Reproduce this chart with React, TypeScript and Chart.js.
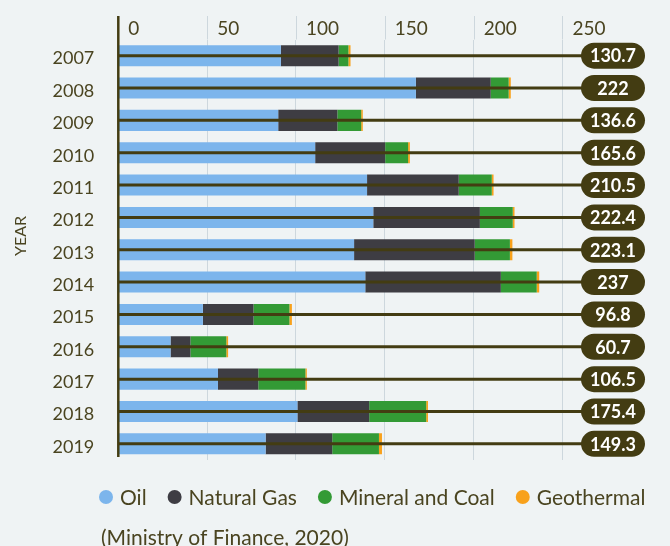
import React, { useEffect, useRef } from "react";
import { Chart, registerables } from "chart.js";

Chart.register(...registerables);

const years = ["2007", "2008", "2009", "2010", "2011", "2012", "2013", "2014", "2015", "2016", "2017", "2018", "2019"];
const oil = [91.5, 167.5, 90.0, 110.8, 140.0, 143.5, 132.7, 139.0, 47.6, 29.4, 56.1, 100.8, 82.9];
const naturalGas = [32.5, 42.1, 33.3, 39.4, 51.6, 60.0, 67.9, 76.3, 28.5, 11.2, 22.7, 40.4, 37.5];
const mineralCoal = [5.5, 10.1, 13.4, 12.9, 18.6, 18.5, 19.8, 20.2, 20.2, 20.2, 26.5, 32.1, 26.3];
const geothermal = [1.2, 1.2, 0.9, 1.0, 1.0, 1.0, 1.4, 1.4, 1.4, 1.0, 0.8, 1.0, 1.7];
const totals = ["130.7", "222", "136.6", "165.6", "210.5", "222.4", "223.1", "237", "96.8", "60.7", "106.5", "175.4", "149.3"];
const seriesNames = ["Oil", "Natural Gas", "Mineral and Coal", "Geothermal"];
const seriesColors = ["#7cb5ec", "#3e3d43", "#339a35", "#f8a11b"];
const sourceNote = "(Ministry of Finance, 2020)";
const axisTitle = "YEAR";

const TEXT = "#4a4420";
const OLIVE = "#433c12";
const GRID = "#cdd7dd";
const FONT = "Lato, 'Open Sans', sans-serif";

const overlayPlugin = {
  id: "overlay",
  beforeDatasetsDraw(chart: any) {
    const { ctx, chartArea, scales } = chart;
    const x = scales.x;
    ctx.save();
    ctx.strokeStyle = GRID;
    ctx.lineWidth = 1;
    x.ticks.forEach((t: any) => {
      if (t.value === 0) return;
      const px = Math.round(x.getPixelForValue(t.value)) + 0.5;
      ctx.beginPath();
      ctx.moveTo(px, 16);
      ctx.lineTo(px, chartArea.top);
      ctx.stroke();
    });
    ctx.restore();
  },
  afterDatasetsDraw(chart: any) {
    const { ctx, chartArea, scales } = chart;
    const x = scales.x;
    const y = scales.y;
    const x0 = x.getPixelForValue(0);
    ctx.save();
    ctx.strokeStyle = OLIVE;
    ctx.lineWidth = 2.5;
    ctx.beginPath();
    ctx.moveTo(x0, 16);
    ctx.lineTo(x0, chartArea.bottom - 3);
    ctx.stroke();

    const pillW = 64;
    const pillH = 26;
    const pillRight = chartArea.right - 1;
    const pillLeft = pillRight - pillW;
    totals.forEach((label, i) => {
      const py = y.getPixelForValue(i);
      ctx.strokeStyle = OLIVE;
      ctx.lineWidth = 3;
      ctx.beginPath();
      ctx.moveTo(x0, py);
      ctx.lineTo(pillLeft + 2, py);
      ctx.stroke();
      ctx.fillStyle = OLIVE;
      ctx.beginPath();
      ctx.roundRect(pillLeft, py - pillH / 2, pillW, pillH, pillH / 2);
      ctx.fill();
      ctx.fillStyle = "#ffffff";
      ctx.font = `bold 18px ${FONT}`;
      ctx.textAlign = "center";
      ctx.textBaseline = "middle";
      ctx.fillText(label, pillLeft + pillW / 2, py + 1);
    });
    ctx.restore();
  },
  afterDraw(chart: any) {
    const { ctx } = chart;
    ctx.save();
    // axis title
    ctx.fillStyle = TEXT;
    ctx.font = `16px ${FONT}`;
    ctx.textAlign = "center";
    ctx.textBaseline = "middle";
    ctx.translate(21, 236);
    ctx.rotate(-Math.PI / 2);
    ctx.fillText(axisTitle, 0, 0);
    ctx.restore();

    ctx.save();
    ctx.font = `21px ${FONT}`;
    ctx.textBaseline = "middle";
    ctx.textAlign = "left";
    let cx = 99;
    const cy = 497;
    chart.data.datasets.forEach((ds: any) => {
      ctx.fillStyle = ds.backgroundColor;
      ctx.beginPath();
      ctx.arc(cx + 7, cy, 7, 0, Math.PI * 2);
      ctx.fill();
      ctx.fillStyle = TEXT;
      ctx.fillText(ds.label, cx + 21, cy + 1);
      cx = cx + 21 + ctx.measureText(ds.label).width + 21;
    });
    ctx.fillStyle = TEXT;
    ctx.fillText(sourceNote, 101, 538);
    ctx.restore();
  },
};

export default function App() {
  const canvasRef = useRef<HTMLCanvasElement | null>(null);

  useEffect(() => {
    if (!canvasRef.current) return;
    const dataSeries = [oil, naturalGas, mineralCoal, geothermal];
    const chart = new Chart(canvasRef.current, {
      type: "bar",
      data: {
        labels: years,
        datasets: dataSeries.map((d, i) => ({
          label: seriesNames[i],
          data: d,
          backgroundColor: seriesColors[i],
          borderWidth: 0,
          categoryPercentage: 0.65,
          barPercentage: 1,
        })),
      },
      options: {
        indexAxis: "y",
        responsive: false,
        maintainAspectRatio: false,
        animation: false,
        layout: { padding: { left: 0, right: 24, top: 0, bottom: 86 } },
        plugins: { legend: { display: false }, tooltip: { enabled: false } },
        scales: {
          x: {
            position: "top",
            stacked: true,
            min: 0,
            max: 297,
            afterBuildTicks: (s: any) => {
              s.ticks = s.ticks.filter((t: any) => t.value <= 250);
            },
            afterFit: (s: any) => {
              s.height = 39.5;
            },
            grid: {
              color: GRID,
              drawTicks: false,
              lineWidth: (c: any) => (c.tick && c.tick.value === 0 ? 0 : 1),
            },
            border: { display: false },
            ticks: {
              stepSize: 50,
              align: "start",
              labelOffset: 10,
              padding: -1,
              color: TEXT,
              font: { family: FONT, size: 19 },
            },
          },
          y: {
            stacked: true,
            afterFit: (s: any) => {
              s.width = 118.3;
            },
            grid: { display: false },
            border: { display: false },
            ticks: { padding: 16, labelOffset: 3, color: TEXT, font: { family: FONT, size: 18 } },
            title: { display: false, text: axisTitle },
          },
        },
      },
      plugins: [overlayPlugin],
    } as any);
    return () => chart.destroy();
  }, []);

  return (
    <div style={{ position: "absolute", left: 0, top: 0, width: 670, height: 546, background: "#eff3f4" }}>
      <canvas ref={canvasRef} width={670} height={546} style={{ display: "block", width: 670, height: 546 }} />
    </div>
  );
}
